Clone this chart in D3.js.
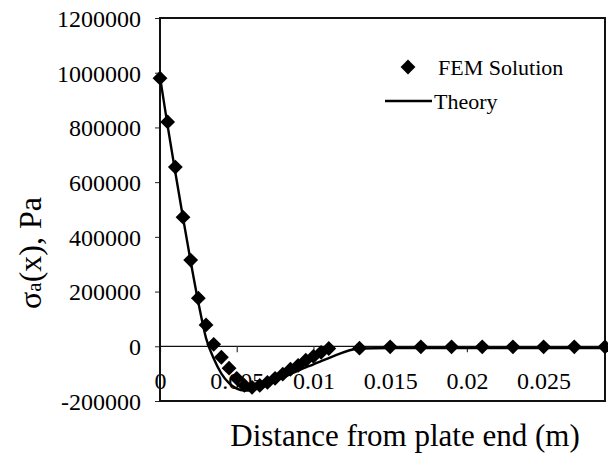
<!DOCTYPE html>
<html>
<head>
<meta charset="utf-8">
<script src="https://cdn.jsdelivr.net/npm/d3@7/dist/d3.min.js"></script>
<style>
  html, body { margin: 0; padding: 0; background: #fff; }
  svg { display: block; }
  text { font-family: "Liberation Serif", "Times New Roman", serif; fill: #000; }
</style>
</head>
<body>
<svg id="chart" width="608" height="463"></svg>
<script>
// Axial stress along the plate: finite-element results vs. closed-form theory
const femX = [0, 0.0005, 0.001, 0.0015, 0.002, 0.0025, 0.003, 0.0035, 0.004, 0.0045,
  0.005, 0.0055, 0.006, 0.0065, 0.007, 0.0075, 0.008, 0.0085, 0.009, 0.0095,
  0.01, 0.0105, 0.011, 0.013, 0.015, 0.017, 0.019, 0.021, 0.023, 0.025, 0.027, 0.029];
const femStress = [980000, 820000, 655000, 472000, 315000, 176000, 78000, 7000, -40000, -80000,
  -117000, -143000, -150000, -143000, -132000, -117000, -102000, -84000, -70000, -51000,
  -37000, -22000, -8000, -7000, -2000, -2000, -2000, -2000, -2000, -2000, -2000, -2000];

const theoryX = [0, 0.0005, 0.001, 0.0015, 0.002, 0.0025, 0.003, 0.0035, 0.004, 0.0045,
  0.005, 0.0055, 0.006, 0.0065, 0.007, 0.0075, 0.008, 0.0085, 0.009, 0.0095,
  0.01, 0.0105, 0.011, 0.013, 0.015, 0.017, 0.019, 0.021, 0.023, 0.025, 0.027, 0.029];
const theoryStress = [985000, 805000, 635000, 470000, 310000, 160000, 30000, -45000, -100000, -135000,
  -155000, -162000, -160000, -152000, -141000, -128000, -115000, -102000, -89000, -77000,
  -66000, -54000, -43000, -8000, -6000, -6000, -6000, -6000, -6000, -6000, -6000, -6000];

const xTicks = [0, 0.005, 0.01, 0.015, 0.02, 0.025];
const xTickLabels = ["0", "0.005", "0.01", "0.015", "0.02", "0.025"];
const yTicks = [-200000, 0, 200000, 400000, 600000, 800000, 1000000, 1200000];

const seriesNames = ["FEM Solution", "Theory"];

const svg = d3.select("#chart");
const plot = { left: 160, right: 605, top: 18, bottom: 401 };

const x = d3.scaleLinear().domain([0, 0.029]).range([plot.left, plot.right]);
const y = d3.scaleLinear().domain([-200000, 1200000]).range([plot.bottom, plot.top]);

// X axis sitting on the zero line (drawn first so the data covers its labels)
const xAxis = d3.axisBottom(x).tickValues(xTicks).tickSize(6).tickPadding(20)
  .tickFormat((d, i) => xTickLabels[i]);
const gx = svg.append("g").attr("transform", `translate(0,${y(0)})`).call(xAxis);
gx.select(".domain").attr("stroke", "#111").attr("stroke-width", 1.2)
  .attr("d", `M${plot.left},0H${plot.right}`);
gx.selectAll("line").attr("stroke", "#333").attr("stroke-width", 1.2);
gx.selectAll("text").style("font-size", "24px").attr("dy", "0.71em");

// Y axis with tick labels on the left
const yAxis = d3.axisLeft(y).tickValues(yTicks).tickSize(5).tickPadding(14)
  .tickFormat(d => String(d));
const gy = svg.append("g").attr("transform", `translate(${plot.left},0)`).call(yAxis);
gy.select(".domain").remove();
gy.selectAll("line").attr("stroke", "#222").attr("stroke-width", 1);
gy.selectAll("text").style("font-size", "24px").attr("dy", "0.35em");

// Plot frame
svg.append("rect")
  .attr("x", plot.left).attr("y", plot.top)
  .attr("width", plot.right - plot.left).attr("height", plot.bottom - plot.top)
  .attr("fill", "none").attr("stroke", "#111").attr("stroke-width", 2);

// Theory curve
const theory = theoryX.map((d, i) => [d, theoryStress[i]]);
svg.append("path")
  .datum(theory)
  .attr("fill", "none").attr("stroke", "#000").attr("stroke-width", 2.4)
  .attr("d", d3.line().x(d => x(d[0])).y(d => y(d[1])).curve(d3.curveMonotoneX));

// FEM markers
const fem = femX.map((d, i) => [d, femStress[i]]);
const diamond = d3.symbol().type(d3.symbolSquare).size(110);
svg.append("g").selectAll("path")
  .data(fem).join("path")
  .attr("d", diamond)
  .attr("transform", d => `translate(${x(d[0])},${y(d[1])}) rotate(45)`)
  .attr("fill", "#000");

// Legend
const lg = svg.append("g");
lg.append("path").attr("d", diamond).attr("transform", "translate(408,67) rotate(45)").attr("fill", "#000");
lg.append("text").attr("x", 438).attr("y", 67).attr("dy", "0.35em").style("font-size", "22px").text(seriesNames[0]);
lg.append("line").attr("x1", 385).attr("x2", 432).attr("y1", 101).attr("y2", 101)
  .attr("stroke", "#000").attr("stroke-width", 2.4);
lg.append("text").attr("x", 434).attr("y", 101).attr("dy", "0.35em").style("font-size", "22px").text(seriesNames[1]);

// Axis titles
svg.append("text")
  .attr("x", 405).attr("y", 446)
  .attr("text-anchor", "middle").style("font-size", "31px")
  .text("Distance from plate end (m)");

const yt = svg.append("text")
  .attr("transform", "translate(41,253) rotate(-90)")
  .attr("text-anchor", "middle").style("font-size", "32px");
yt.append("tspan").text("σ");
yt.append("tspan").style("font-size", "21px").text("a");
yt.append("tspan").text("(x), Pa");
</script>
</body>
</html>
